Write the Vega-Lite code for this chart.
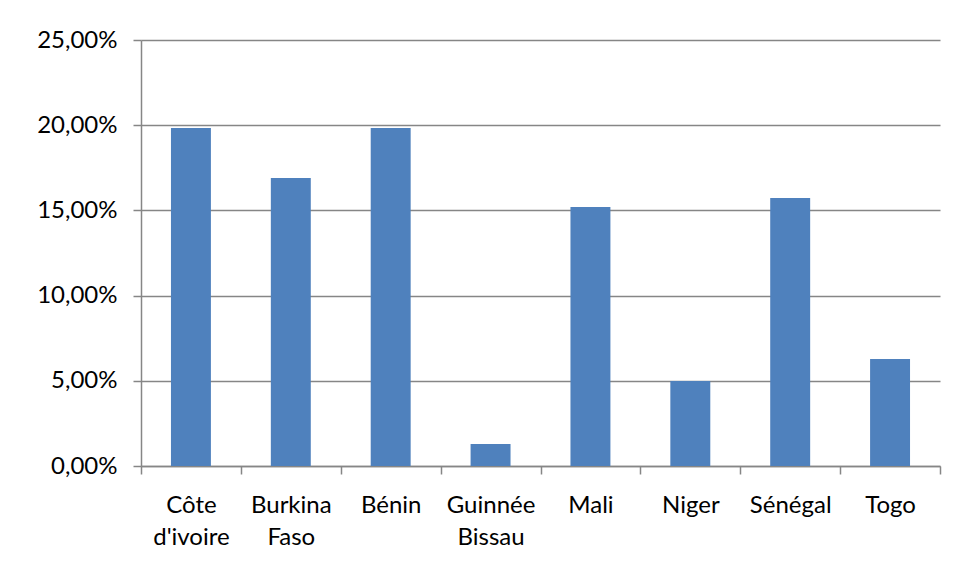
{
  "$schema": "https://vega.github.io/schema/vega-lite/v6.json",
  "autosize": "none",
  "width": 799,
  "height": 426,
  "padding": {"left": 141, "top": 40, "right": 19, "bottom": 112},
  "background": "white",
  "data": {
    "values": [
      {"pays": "Côte d'ivoire", "taux": 0.1983},
      {"pays": "Burkina Faso", "taux": 0.169},
      {"pays": "Bénin", "taux": 0.1983},
      {"pays": "Guinnée Bissau", "taux": 0.0129},
      {"pays": "Mali", "taux": 0.152},
      {"pays": "Niger", "taux": 0.0499},
      {"pays": "Sénégal", "taux": 0.1573},
      {"pays": "Togo", "taux": 0.0628}
    ]
  },
  "mark": {"type": "bar", "color": "#4F81BD", "width": {"band": 0.4}},
  "encoding": {
    "x": {
      "field": "pays",
      "type": "nominal",
      "sort": null,
      "scale": {"paddingInner": 0, "paddingOuter": 0},
      "axis": {
        "title": null,
        "labelAngle": 0,
        "labelExpr": "datum.value ? split(datum.value, ' ') : ''",
        "tickBand": "extent",
        "tickSize": 8,
        "labelPadding": 19,
        "labelLineHeight": 32,
        "labelBaseline": "top"
      }
    },
    "y": {
      "field": "taux",
      "type": "quantitative",
      "scale": {"domain": [0, 0.25]},
      "axis": {
        "title": null,
        "values": [0, 0.05, 0.1, 0.15, 0.2, 0.25],
        "labelExpr": "replace(format(datum.value, '.2%'), '.', ',')",
        "tickSize": 8,
        "labelPadding": 16
      }
    }
  },
  "config": {
    "view": {"stroke": null},
    "axis": {
      "labelFont": "Lato",
      "labelFontSize": 24,
      "labelColor": "#000000",
      "domainColor": "#868686",
      "tickColor": "#868686",
      "gridColor": "#868686",
      "domainWidth": 1.5,
      "tickWidth": 1.5,
      "gridWidth": 1.5
    },
    "axisX": {"grid": false},
    "axisY": {"grid": true}
  }
}
